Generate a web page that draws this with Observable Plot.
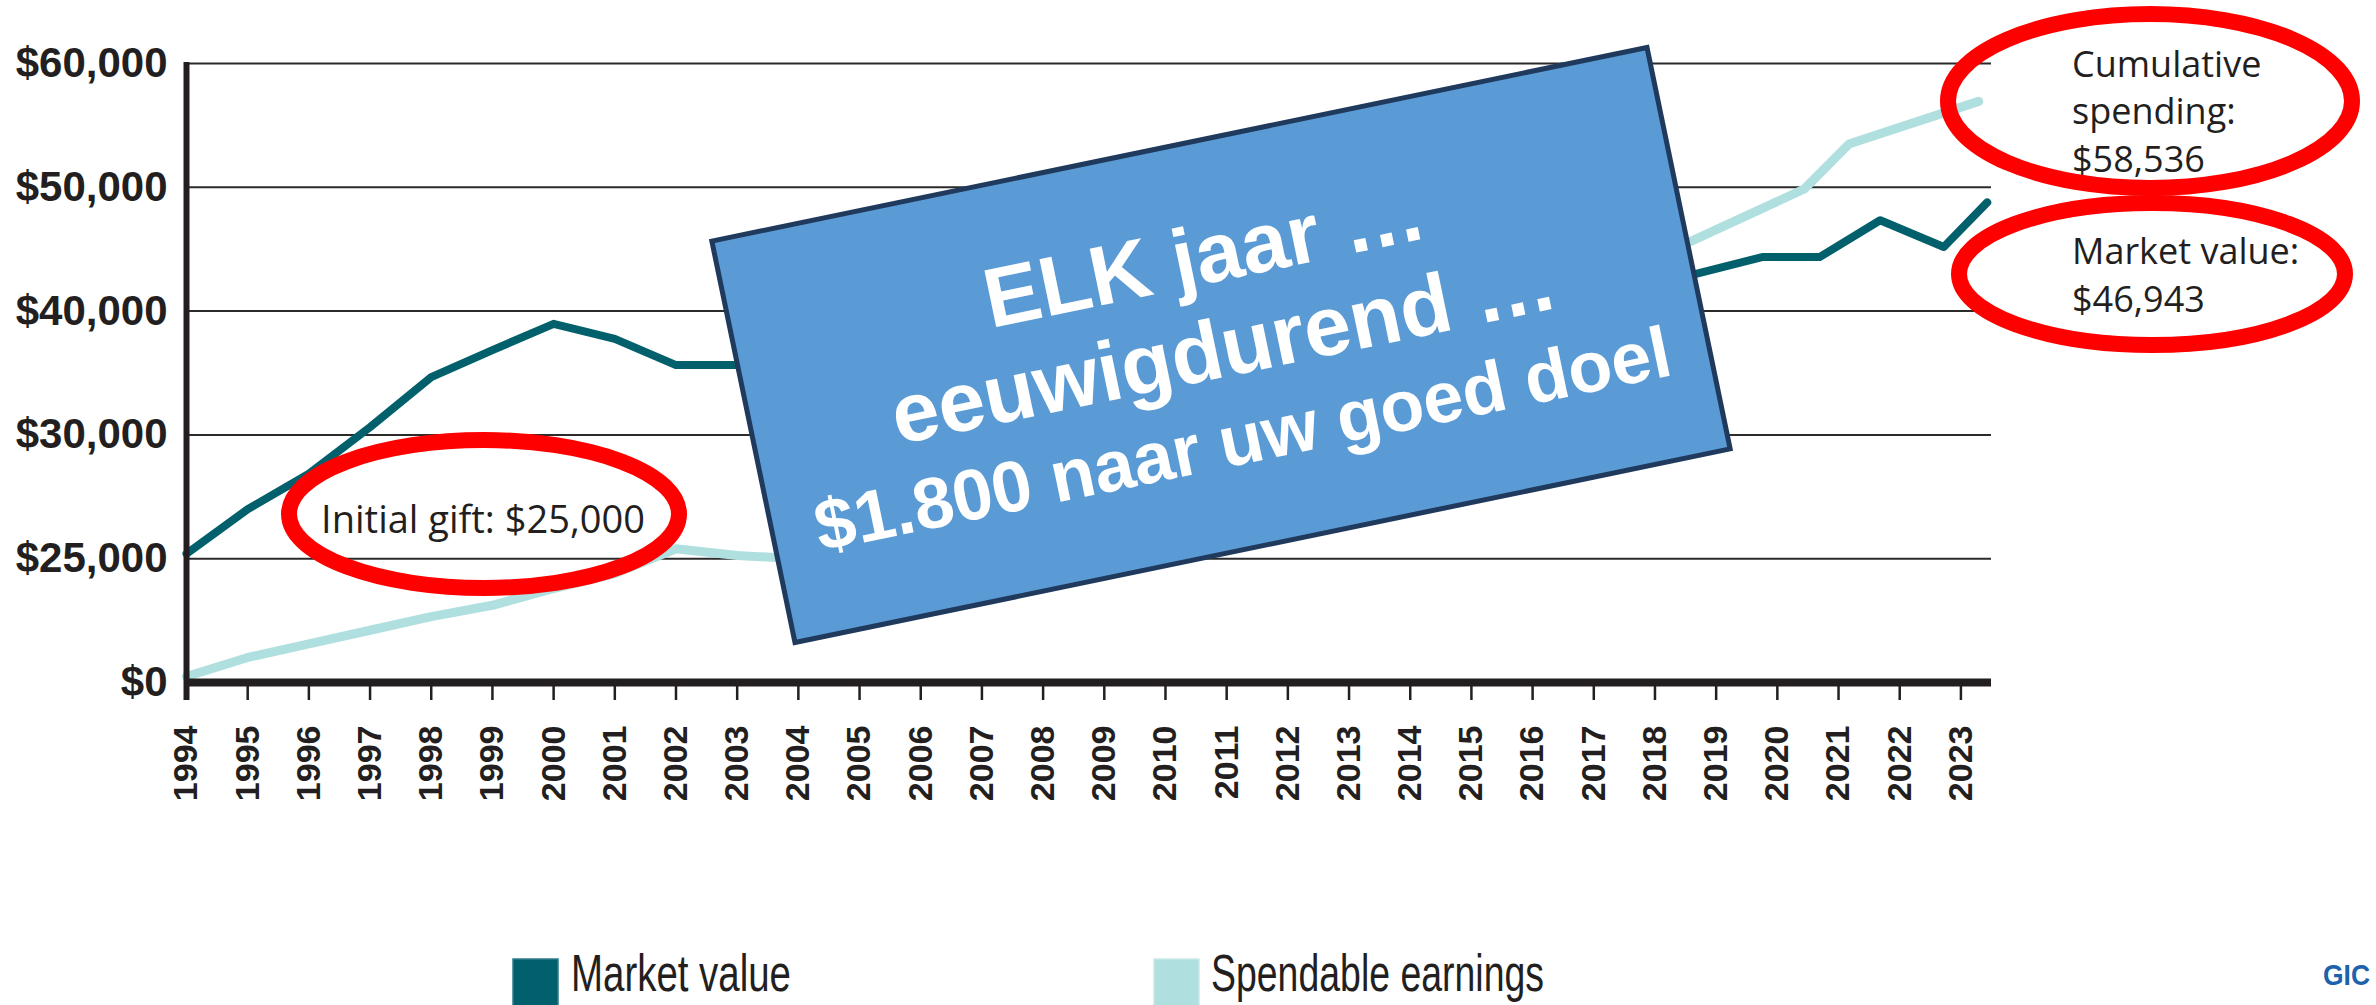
<!DOCTYPE html>
<html><head><meta charset="utf-8">
<script src="https://cdn.jsdelivr.net/npm/d3@7"></script>
<script src="https://cdn.jsdelivr.net/npm/@observablehq/plot@0.6"></script>
<style>
html,body{margin:0;padding:0;background:#fff;overflow:hidden;width:2376px;height:1005px;}
#chart svg{display:block}
</style></head><body>
<div id="chart"></div>
<script>
// ---- data ----
const years = [1994,1995,1996,1997,1998,1999,2000,2001,2002,2003,2004,2005,2006,2007,2008,2009,2010,2011,2012,2013,2014,2015,2016,2017,2018,2019,2020,2021,2022,2023];
const yTicks = [0, 25000, 30000, 40000, 50000, 60000];
const gridValues = [25000, 30000, 40000, 50000, 60000];
const seriesNames = ["Market value", "Spendable earnings"];
const seriesColors = ["#02606c", "#b0dfdf"];
const marketYears  = [1994,1995,1996,1997,1998,1999,2000,2001,2002,2003,2018.67,2019.75,2020.69,2021.68,2022.72,2023.43];
const marketValues = [25200,27000,28430,30630,34660,36850,38970,37760,35640,35640,43000,44360,44360,47340,45180,48780];
const spendYears   = [1994,1995,1996,1997,1998,1999,2000,2001,2002,2003,2004,2018.63,2020.44,2021.17,2023.29];
const spendValues  = [1200,5060,7810,10550,13300,15590,18980,21990,25400,25130,25000,45730,49860,53490,56940];
const boxLines = ["ELK jaar \u2026", "eeuwigdurend \u2026", "$1.800 naar uw goed doel"];
const noteGift = "Initial gift: $25,000";
const noteSpend = ["Cumulative", "spending:", "$58,536"];
const noteMarket = ["Market value:", "$46,943"];

// ---- layout ----
const W = 2376, H = 930;
const left = 186, right = 1991, yBottom = 682, yTop = 63;
const ink = "#231f20";
const marketRows = marketYears.map((t, i) => ({series: seriesNames[0], t, v: marketValues[i]}));
const spendRows = spendYears.map((t, i) => ({series: seriesNames[1], t, v: spendValues[i]}));
// the original axis draws its labelled values evenly spaced (a broken scale)
const evenly = d3.scaleLinear().domain(yTicks).range(yTicks.map((d, i) => i));
const money = d => "$" + d3.format(",")(d);

const chart = Plot.plot({
  width: W, height: H,
  marginLeft: left, marginRight: W - right, marginTop: yTop, marginBottom: H - yBottom,
  style: {fontFamily: "'Liberation Sans', Arial, sans-serif", color: ink, background: "#fff"},
  x: {domain: [1994, 2023.5], axis: null},
  y: {transform: evenly, domain: [0, yTicks.length - 1], axis: null},
  marks: [
    Plot.ruleY(gridValues, {stroke: "#2b2b2b", strokeWidth: 2}),
    Plot.line(spendRows, {x: "t", y: "v", stroke: seriesColors[1], strokeWidth: 9, strokeLinecap: "round", strokeLinejoin: "round"}),
    Plot.line(marketRows, {x: "t", y: "v", stroke: seriesColors[0], strokeWidth: 8, strokeLinecap: "round", strokeLinejoin: "round"}),
    Plot.ruleY([0], {stroke: ink, strokeWidth: 8}),
    Plot.ruleX([1994], {stroke: ink, strokeWidth: 6, insetBottom: -18, insetTop: -1}),
    Plot.axisX({ticks: years, tickFormat: d => String(d), tickRotate: -90, tickSize: 18, tickPadding: 25,
      fontSize: 34, fontWeight: "bold", stroke: ink, strokeWidth: 2.5, fill: ink, label: null}),
    Plot.text(yTicks, {y: d => d, text: money, frameAnchor: "left", textAnchor: "end", dx: -19,
      fontSize: 42, fontWeight: "bold", fill: ink})
  ]
});
document.getElementById("chart").appendChild(chart);

// ---- annotations ----
const svg = d3.select(chart);
const ann = svg.append("g");
const noteFont = "'Open Sans', 'Noto Sans', sans-serif";
ann.append("text").attr("x", 483).attr("y", 533).attr("text-anchor", "middle")
  .attr("font-family", noteFont).attr("font-size", 38).attr("fill", ink).text(noteGift);
noteSpend.forEach((s, i) => ann.append("text").attr("x", 2072).attr("y", [77, 124, 172][i]).attr("text-anchor", "start")
  .attr("font-family", noteFont).attr("font-size", 36).attr("fill", ink).text(s));
noteMarket.forEach((s, i) => ann.append("text").attr("x", 2072).attr("y", [264, 312][i]).attr("text-anchor", "start")
  .attr("font-family", noteFont).attr("font-size", 36).attr("fill", ink).text(s));
[{cx: 484, cy: 514, rx: 195, ry: 74}, {cx: 2150, cy: 101, rx: 202, ry: 87}, {cx: 2152, cy: 274, rx: 193, ry: 71}]
  .forEach(e => ann.append("ellipse").attr("cx", e.cx).attr("cy", e.cy).attr("rx", e.rx).attr("ry", e.ry)
    .attr("fill", "none").attr("stroke", "#ff0000").attr("stroke-width", 16));

const box = svg.append("g").attr("transform", "translate(1221,345) rotate(-11.7)");
box.append("rect").attr("x", -477.5).attr("y", -205).attr("width", 955).attr("height", 410)
  .attr("fill", "#5b9bd5").attr("stroke", "#1f3a5c").attr("stroke-width", 5);
const boxFont = [84, 84, 72], boxBase = [-63, 32, 121];
boxLines.forEach((s, i) => box.append("text").attr("x", 2).attr("y", boxBase[i]).attr("text-anchor", "middle")
  .attr("font-family", "'Liberation Sans', Arial, sans-serif").attr("font-weight", "bold")
  .attr("font-size", boxFont[i]).attr("fill", "#fff").text(s));

// ---- legend below ----
const legFont = "'Liberation Sans Narrow', 'Liberation Sans', Arial, sans-serif";
const legH = 1005 - H, off = 950 - H;
const leg = d3.select("body").append("svg").attr("width", W).attr("height", legH).style("display", "block");
[{x: 513, tx: 571, len: 220}, {x: 1154, tx: 1211, len: 333}].forEach((p, i) => {
  leg.append("rect").attr("x", p.x).attr("y", 9 + off).attr("width", 45).attr("height", 48)
    .attr("fill", seriesColors[i]).attr("stroke", i ? "#c8e9e9" : "#2f7d88").attr("stroke-width", 1.5);
  leg.append("text").attr("x", p.tx).attr("y", 41 + off).attr("text-anchor", "start").attr("font-family", legFont)
    .attr("font-size", 52).attr("textLength", p.len).attr("lengthAdjust", "spacingAndGlyphs")
    .attr("fill", ink).text(seriesNames[i]);
});
leg.append("text").attr("x", 2323).attr("y", 35 + off).attr("text-anchor", "start")
  .attr("font-family", "'Liberation Sans', Arial, sans-serif").attr("font-weight", "bold")
  .attr("font-size", 30).attr("textLength", 47).attr("lengthAdjust", "spacingAndGlyphs")
  .attr("fill", "#1d62ad").text("GIC");
</script>
</body></html>
